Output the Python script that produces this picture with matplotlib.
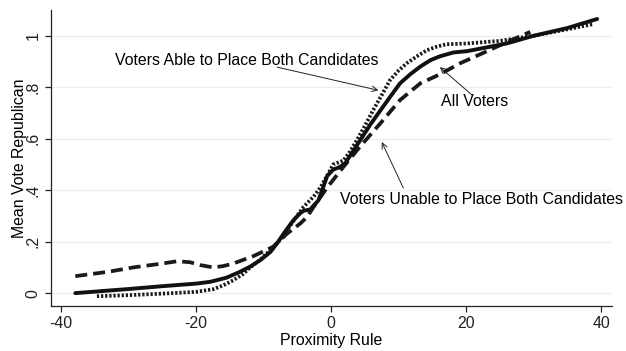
import matplotlib
matplotlib.use("Agg")
import matplotlib.pyplot as plt

# All Voters (solid)
all_x = [-37.9, -30, -25, -20, -17.9, -15.5, -13.5, -12, -10.5, -9, -8.0, -6.8, -5.6, -4.6, -4.1, -3.1,
         -2.6, -1.9, -1.2, -0.6, 0.3, 1.3, 2.1, 3.2, 4.3, 5.8, 7.3, 8.8, 10.2, 11.7, 13.2, 14.7, 16.1,
         18.1, 20.1, 23.1, 26, 30, 35, 39.4]
all_y = [0.0, 0.016, 0.027, 0.037, 0.044, 0.06, 0.083, 0.103, 0.128, 0.16, 0.194, 0.24, 0.283, 0.31, 0.32,
         0.325, 0.34, 0.36, 0.41, 0.455, 0.48, 0.49, 0.505, 0.55, 0.594, 0.655, 0.71, 0.765, 0.815, 0.85,
         0.88, 0.905, 0.92, 0.935, 0.94, 0.955, 0.97, 1.0, 1.03, 1.065]

# Voters Able to Place Both Candidates (dotted)
able_x = [-34.7, -30, -25, -20, -17.5, -16, -14.5, -13, -12, -10.5, -9.5, -7.6, -5.6, -4.1, -2.6, -1.6,
          -0.5, 0.3, 1.8, 2.8, 3.8, 5, 6.2, 7.5, 8.7, 10, 11.2, 12.7, 14.2, 15.7, 17.1, 20.1, 25, 30, 35, 38.8]
able_y = [-0.012, -0.008, -0.002, 0.005, 0.015, 0.03, 0.05, 0.075, 0.1, 0.13, 0.155, 0.206, 0.28, 0.335,
          0.375, 0.41, 0.46, 0.5, 0.515, 0.55, 0.594, 0.65, 0.71, 0.77, 0.827, 0.865, 0.893, 0.92, 0.944,
          0.958, 0.967, 0.97, 0.98, 1.0, 1.025, 1.045]

# Voters Unable to Place Both Candidates (dashed)
unable_x = [-37.9, -33, -29.3, -25, -22.8, -20.9, -19.4, -17.5, -16, -14.5, -11.5, -8.6, -6.5, -4.6, -3.6,
            -2.6, -0.6, 1.8, 4.3, 7.3, 10.2, 13.2, 16.1, 19.1, 23.1, 26, 29.5]
unable_y = [0.066, 0.083, 0.1, 0.115, 0.124, 0.12, 0.109, 0.1, 0.105, 0.115, 0.144, 0.18, 0.232, 0.27,
            0.295, 0.335, 0.41, 0.49, 0.57, 0.66, 0.75, 0.815, 0.85, 0.893, 0.94, 0.975, 1.015]

xticks = [-40, -20, 0, 20, 40]
yticks = [0, 0.2, 0.4, 0.6, 0.8, 1.0]
ytick_labels = ["0", ".2", ".4", ".6", ".8", "1"]

plt.rcParams['font.family'] = ['Liberation Sans', 'DejaVu Sans']
FS = 11.4

fig = plt.figure(figsize=(6.26, 3.51), dpi=100)
ax = fig.add_axes([51/626, 1-306/351, (612-51)/626, (306-10)/351])

for yv in yticks:
    ax.axhline(yv, color='#eeeeee', lw=1.0, zorder=0)

ax.plot(unable_x, unable_y, color='#1a1a1a', lw=2.7, linestyle=(0, (3.2, 1.6)),
        dash_capstyle='butt', zorder=2)
ax.plot(able_x, able_y, color='#1a1a1a', lw=2.7, linestyle=(0, (0.6, 0.5)), dash_capstyle='butt', zorder=2)
ax.plot(all_x, all_y, color='#111111', lw=2.8, solid_capstyle='round', zorder=3)

ax.set_xlim(-41.5, 41.6)
ax.set_ylim(-0.05, 1.10)
ax.set_xticks(xticks)
ax.set_xticklabels([str(t) for t in xticks])
ax.set_yticks(yticks)
ax.set_yticklabels(ytick_labels, rotation=90, va='center')

for s in ['top', 'right']:
    ax.spines[s].set_visible(False)
for s in ['left', 'bottom']:
    ax.spines[s].set_linewidth(0.9)
    ax.spines[s].set_color('#222222')
ax.tick_params(axis='both', direction='out', length=4.5, width=0.9, labelsize=FS, colors='#222222', pad=3)

ax.set_xlabel("Proximity Rule", fontsize=FS, labelpad=1)
ax.set_ylabel("Mean Vote Republican", fontsize=FS, labelpad=-1)

arrowprops = dict(arrowstyle='->', color='#222222', lw=0.7, shrinkA=0, shrinkB=0)
ax.annotate("", xy=(7.0, 0.788), xytext=(-8.0, 0.878), arrowprops=arrowprops)
ax.text(-12.5, 0.905, "Voters Able to Place Both Candidates", fontsize=FS, ha='center', va='center')

ax.annotate("", xy=(16.1, 0.878), xytext=(20.9, 0.769), arrowprops=arrowprops)
ax.text(21.3, 0.745, "All Voters", fontsize=FS, ha='center', va='center')

ax.annotate("", xy=(7.5, 0.587), xytext=(10.7, 0.408), arrowprops=arrowprops)
ax.text(1.3, 0.365, "Voters Unable to Place Both Candidates", fontsize=FS, ha='left', va='center',
        clip_on=False)

fig.savefig("out.png", dpi=100)
